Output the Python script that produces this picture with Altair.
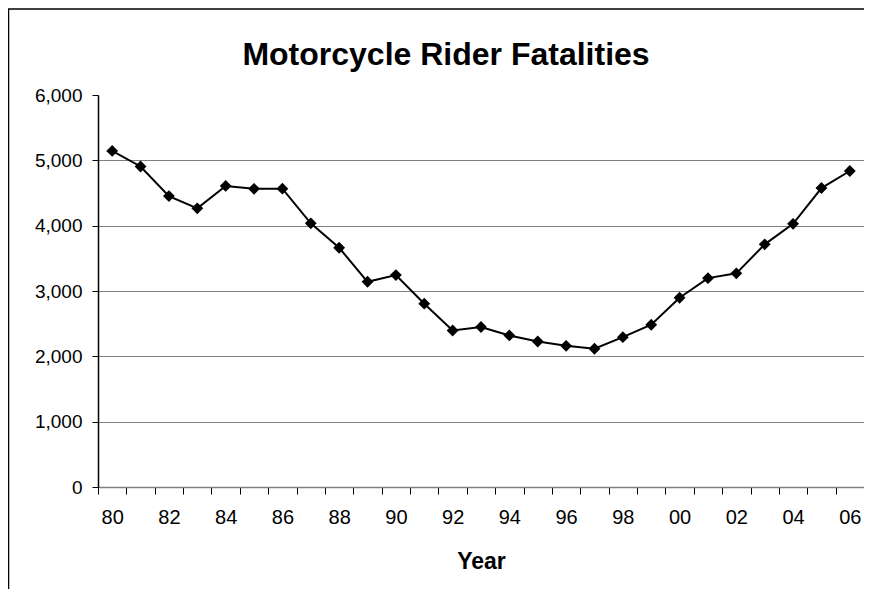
import altair as alt
import pandas as pd

years = ["80", "81", "82", "83", "84", "85", "86", "87", "88", "89",
         "90", "91", "92", "93", "94", "95", "96", "97", "98", "99",
         "00", "01", "02", "03", "04", "05", "06"]
fatalities = [5144, 4906, 4453, 4265, 4608, 4564, 4566, 4036, 3662, 3141,
              3244, 2806, 2395, 2449, 2320, 2227, 2161, 2116, 2294, 2483,
              2897, 3197, 3270, 3714, 4028, 4576, 4837]
y_ticks = [0, 1000, 2000, 3000, 4000, 5000, 6000]
title_text = "Motorcycle Rider Fatalities"

df = pd.DataFrame({"Year": years, "Fatalities": fatalities})

FONT = "Liberation Sans"

x_enc = alt.X(
    "Year:N", sort=None,
    scale=alt.Scale(paddingInner=0, paddingOuter=0),
    axis=alt.Axis(
        tickBand="extent",
        labelExpr="parseInt(datum.value, 10) % 2 == 0 ? datum.value : ''",
        labelAngle=0, labelFont=FONT, labelFontSize=20, labelColor="black",
        labelPadding=13, labelOverlap=False, labelBound=False,
        tickSize=7, tickColor="black", tickWidth=1,
        domainColor="#808080", domainWidth=1.5,
        grid=False,
        title="Year", titleFont=FONT, titleFontSize=23, titleFontWeight="bold",
        titleColor="black", titlePadding=23,
    ),
)
y_enc = alt.Y(
    "Fatalities:Q",
    scale=alt.Scale(domain=[0, 6000], nice=False),
    axis=alt.Axis(
        values=y_ticks, format=",.0f", title=None,
        labelFont=FONT, labelFontSize=19, labelColor="black", labelPadding=10,
        tickSize=6, tickColor="black", tickWidth=1,
        domainColor="black", domainWidth=1.5,
        grid=True, gridWidth=1, gridColor="#808080",
        gridOpacity={"condition": {"test": "datum.value === 6000", "value": 0},
                     "value": 1},
    ),
)

base = alt.Chart(df).encode(x=x_enc, y=y_enc)
line = base.mark_line(color="black", strokeWidth=2)
pts = base.mark_point(shape="diamond", filled=True, size=140, color="black", opacity=1)

border = alt.Chart(alt.Data(values=[{"a": 1}])).mark_rect(
    fill="transparent", stroke="black", strokeWidth=1.5, clip=False
).encode(
    x=alt.value(-89.5), x2=alt.value(3000),
    y=alt.value(-86), y2=alt.value(3000),
)

title = alt.Chart(alt.Data(values=[{"t": title_text}])).mark_text(
    font=FONT, fontSize=32, fontWeight="bold", color="black",
    align="center", baseline="alphabetic",
).encode(text="t:N", x=alt.value(348), y=alt.value(-30))

chart = alt.layer(border, line, pts, title).properties(
    width=766, height=392,
    background="white",
    autosize=alt.AutoSizeParams(type="none"),
    padding={"left": 90, "top": 87, "right": 0, "bottom": 102},
).configure_view(stroke="transparent", strokeWidth=0)

chart.save("out.html", embed_options={"renderer": "svg", "actions": False})
